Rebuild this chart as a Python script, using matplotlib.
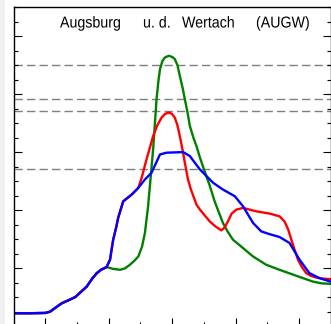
"""Flood hydrograph for gauge Augsburg u. d. Wertach (AUGW).

Three forecast runs of discharge over a 120 h window, with the
warning levels drawn as dashed horizontal lines.
"""

import numpy as np
import matplotlib
matplotlib.use("Agg")
import matplotlib.pyplot as plt
from matplotlib.patches import Rectangle, PathPatch
from matplotlib.textpath import TextPath
from matplotlib.font_manager import FontProperties
from matplotlib.transforms import Affine2D, IdentityTransform
from matplotlib.ticker import MultipleLocator, FixedLocator

W, H = 331, 324
DPI = 100

# common rising limb shared by all runs (hours, discharge)
rise_h = [0, 6.3, 12, 13.85, 15.7, 18.3, 20.6, 23.3, 25.5, 27.7, 29.7, 31.5, 33.1, 35.2]
rise_q = [22, 22, 22.5, 24.7, 31, 39.3, 44, 49.7, 58.8, 68, 81.3, 91.2, 96.9, 101.6]

# blue / red runs stay together a little longer
shoulder_h = [36.5, 37.7, 38.8, 39.6, 41.5, 44.7, 47.2]
shoulder_q = [114.2, 148.8, 169.5, 186.8, 215, 226.6, 238.2]

blue_h = [49.7, 52.2, 55.4, 57.9, 61.0, 64.2, 66.7, 70.5, 75.5, 79.2, 83.7, 86.8,
          90.6, 93.7, 96.9, 100.6, 104.4, 108.2, 111.9, 115.7, 119.9]
blue_q = [252.6, 264.2, 295.8, 298.8, 299.3, 299.8, 292.9, 269.9, 246.9, 235.3, 223.7, 206.4,
          177.7, 163.1, 158.3, 153.5, 143.1, 114.2, 91.2, 82.5, 76.6]

red_h = [48.5, 50.3, 51.6, 52.8, 54.4, 56.0, 57.4, 58.8, 59.9, 61.0, 62.0, 62.9,
         63.9, 64.8, 66.0, 67.1, 69.2, 70.5, 74.2, 76.5, 78.6, 79.8, 81.1, 82.5,
         84.3, 86.8, 91.9, 96.9, 100.6, 102.5, 103.9, 105.1, 106.3, 107.6, 109.0,
         110.7, 112.4, 114.5, 116.9, 119.9]
red_q = [256, 287.2, 307.9, 327.5, 346, 359.3, 365.9, 368.0, 365.9, 359.3, 346, 327.5,
         304.5, 281.5, 252.6, 235.3, 209.3, 200.7, 180.4, 171.3, 164.9, 169.5, 180.4, 193.8,
         200.7, 203.6, 197.7, 193.8, 189.1, 180.4, 166.1, 148.8, 131.5, 114.2, 102.1,
         91.2, 86.5, 83.6, 81.8, 80.8]

green_h = [37.6, 40.3, 42.2, 44.0, 45.7, 47.2, 48.6, 49.7, 50.9, 51.8, 52.8,
           54.1, 54.8, 55.4, 56.3, 57.3, 58.8, 60.1, 61.0, 62.0, 62.9,
           63.9, 64.8, 65.8, 66.7, 68.0, 69.2, 70.5, 72.3, 74.2, 76.1,
           78.0, 79.2, 81.0, 83.0, 86.8, 90.6, 95.6, 100.6, 107.0, 113.2, 116.5, 119.9]
green_q = [98.6, 96.9, 99.5, 105.5, 112.5, 119.9, 136.7, 160.4, 206.4, 252.6, 304.5,
           391, 422, 442.9, 456.7, 463.1, 465.9, 463.6, 460.2, 449.8, 431.3,
           411.7, 391, 368.5, 344.8, 325.2, 310.2, 290.6, 266.4, 242.2, 214.5,
           192, 177.7, 162.6, 148.8, 134.4, 119.9, 105.5, 96.9, 86.5, 76.6, 73.5, 72.7]

warn_levels = [450.4, 391.7, 371.5, 271.1]

title_words = ["Augsburg", "u. d.", "Wertach", "(AUGW)"]
title_x_px = [60, 143, 182, 256]

plt.rcParams.update({
    "font.family": ["Liberation Sans", "DejaVu Sans"],
    "lines.scale_dashes": False,
})

fig = plt.figure(figsize=(W / DPI, H / DPI), dpi=DPI, facecolor="white")
# light strip along the left edge of the panel
fig.patches.append(Rectangle((0, 0), 5 / W, 1, transform=fig.transFigure,
                             facecolor="#f0f0f0", edgecolor="none", zorder=0))

# axes box in pixels: left 13.5, right 330.8, top 7, bottom 326 (just below the canvas)
left, right, top, bottom = 13.5, 330.8, 7, 326
ax = fig.add_axes([left / W, (H - bottom) / H, (right - left) / W, (bottom - top) / H])
ax.set_xlim(0, 120)
ax.set_ylim(0, 550)

for lvl in warn_levels:
    ax.axhline(lvl, color="#7f7f7f", lw=1.0, dashes=(6.0, 3.0), zorder=1)

runs = [
    (np.r_[rise_h, green_h], np.r_[rise_q, green_q], "#008000"),
    (np.r_[rise_h, shoulder_h, red_h], np.r_[rise_q, shoulder_q, red_q], "#ff0000"),
    (np.r_[rise_h, shoulder_h, blue_h], np.r_[rise_q, shoulder_q, blue_q], "#0000ff"),
]
for h, q, col in runs:
    ax.plot(h, q, color=col, lw=1.7, solid_joinstyle="round", solid_capstyle="round", zorder=2)

ax.xaxis.set_major_locator(FixedLocator([12, 36, 60, 84, 108]))
ax.xaxis.set_minor_locator(MultipleLocator(12))
ax.yaxis.set_major_locator(MultipleLocator(100))
ax.yaxis.set_minor_locator(MultipleLocator(25))
ax.tick_params(which="both", direction="in", left=True, right=True, bottom=True, top=False,
               labelleft=False, labelbottom=False, width=0.8, color="black")
ax.tick_params(which="major", length=5.5)
ax.tick_params(which="minor", length=3)
for s in ax.spines.values():
    s.set_linewidth(1.0)
    s.set_color("black")

# title words as narrowed glyph outlines (pixel coordinates)
prop = FontProperties(family="Liberation Sans")
for word, xp in zip(title_words, title_x_px):
    tp = TextPath((0, 0), word, size=15.8, prop=prop)
    tr = Affine2D().scale(0.9, 1.0).translate(xp, H - 27.5) + IdentityTransform()
    fig.patches.append(PathPatch(tp, transform=tr, facecolor="black",
                                 edgecolor="none", zorder=5))

fig.savefig("out.png", dpi=DPI, facecolor="white")
